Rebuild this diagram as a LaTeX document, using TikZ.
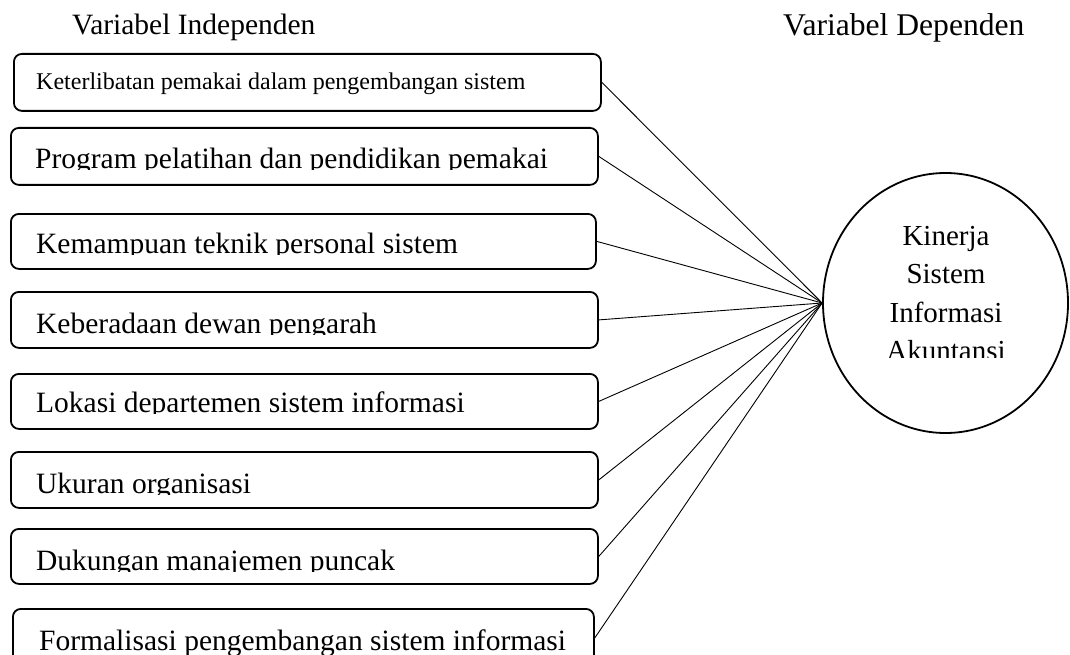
\documentclass[tikz,border=0pt]{standalone}
\usepackage{fontspec}
\setmainfont{Liberation Serif}
\usetikzlibrary{shapes.geometric}
\begin{document}
\begin{tikzpicture}[x=1pt,y=-1pt,
  varbox/.style={draw,line width=1.8pt,rounded corners=8pt,inner sep=0pt},
  link/.style={line width=0.9pt},
  big/.style={font=\fontsize{29.5}{38.5}\selectfont,inner sep=0pt,anchor=base west},
  small/.style={font=\fontsize{24}{30}\selectfont,inner sep=0pt,anchor=base west},
  etext/.style={font=\fontsize{29}{38.5}\selectfont,inner sep=0pt,anchor=base}]
\useasboundingbox (0,0) rectangle (1070,655);
\clip (0,0) rectangle (1070,655);
% titles
\node[big] (tind) at (72,35) {Variabel Independen};
\node[big,font=\fontsize{31.6}{38}\selectfont] (tdep) at (783,36) {Variabel Dependen};
% boxes (corners given in pixel coordinates)
\node[varbox,minimum width=587pt,minimum height=57pt,anchor=north west] (b1) at (13,53) {};
\node[varbox,minimum width=587pt,minimum height=57pt,anchor=north west] (b2) at (10,127) {};
\node[varbox,minimum width=585pt,minimum height=55pt,anchor=north west] (b3) at (10,213) {};
\node[varbox,minimum width=587pt,minimum height=56pt,anchor=north west] (b4) at (10,291) {};
\node[varbox,minimum width=587pt,minimum height=55pt,anchor=north west] (b5) at (10,373) {};
\node[varbox,minimum width=587pt,minimum height=56pt,anchor=north west] (b6) at (10,451) {};
\node[varbox,minimum width=587pt,minimum height=55pt,anchor=north west] (b7) at (10,528) {};
\node[varbox,minimum width=581pt,minimum height=58pt,anchor=north west] (b8) at (12,608) {};
% box texts (clipped at the baseline as in the reference)
\node[small] (t1) at (36,90) {Keterlibatan pemakai dalam pengembangan sistem};
\begin{scope}\clip (0,120) rectangle (620,169.5);
\node[big] (t2) at (35,168) {Program pelatihan dan pendidikan pemakai};\end{scope}
\begin{scope}\clip (0,200) rectangle (620,254.5);
\node[big] (t3) at (36,253) {Kemampuan teknik personal sistem};\end{scope}
\begin{scope}\clip (0,280) rectangle (620,334.5);
\node[big] (t4) at (36,333) {Keberadaan dewan pengarah};\end{scope}
\begin{scope}\clip (0,360) rectangle (620,413.5);
\node[big] (t5) at (36,412) {Lokasi departemen sistem informasi};\end{scope}
\begin{scope}\clip (0,440) rectangle (620,494.5);
\node[big] (t6) at (36,493) {Ukuran organisasi};\end{scope}
\begin{scope}\clip (0,515) rectangle (620,571.5);
\node[big] (t7) at (36,570) {Dukungan manajemen puncak};\end{scope}
\node[big] (t8) at (39,650) {Formalisasi pengembangan sistem informasi};
% dependent variable
\node[draw,ellipse,line width=1.8pt,minimum width=245pt,minimum height=260pt,inner sep=0pt] (e) at (945.5,303) {};
\begin{scope}\clip (820,150) rectangle (1070,357);
\node[etext] (k1) at (946,245) {Kinerja};
\node[etext] (k2) at (946,283.5) {Sistem};
\node[etext] (k3) at (946,322) {Informasi};
\node[etext] (k4) at (946,360.5) {Akuntansi};
\end{scope}
% connectors
\foreach \i in {1,...,8} \draw[link] (b\i.east) -- (e.west);
\end{tikzpicture}
\end{document}
